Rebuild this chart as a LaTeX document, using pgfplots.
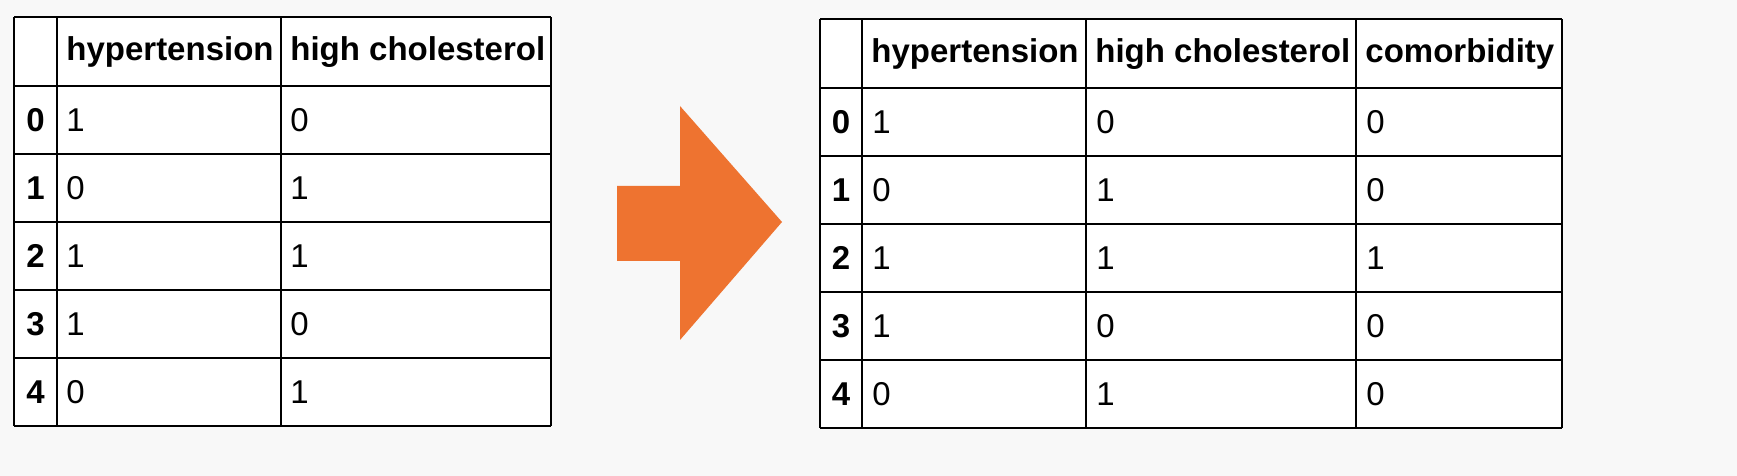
\documentclass[border=0pt]{standalone}
\usepackage{pgfplots}
\pgfplotsset{compat=1.18}
\usepackage{fontspec}
\setmainfont{Liberation Sans}
\definecolor{arrow}{HTML}{EE7330}
\definecolor{bg}{HTML}{F8F8F8}
\newcommand{\fs}{\fontsize{16.5}{19}\selectfont}
\begin{document}
\begin{tikzpicture}
\begin{axis}[scale only axis, width=868.5pt, height=238pt, xmin=0, xmax=1737, ymin=0, ymax=476,
  axis lines=none, clip=false]
\addplot[fill=bg,draw=none] coordinates {(0,0)(1737,0)(1737,476)(0,476)} -- cycle;
\addplot[fill=white,draw=none] coordinates {(14,50)(551,50)(551,459)(14,459)} -- cycle;
\addplot[fill=white,draw=none] coordinates {(820,48)(1562,48)(1562,457)(820,457)} -- cycle;
\addplot[fill=arrow,draw=none] coordinates {(617,290)(680,290)(680,370)(782,254)(680,136)(680,215)(617,215)} -- cycle;
\begin{scope}[line width=1.1pt]
\draw (14,459)--(551,459); \draw (14,390)--(551,390); \draw (14,322)--(551,322);
\draw (14,254)--(551,254); \draw (14,186)--(551,186); \draw (14,118)--(551,118); \draw (14,50)--(551,50);
\draw (14,50)--(14,459); \draw (57,50)--(57,459); \draw (281,50)--(281,459); \draw (551,50)--(551,459);
\draw (820,457)--(1562,457); \draw (820,388)--(1562,388); \draw (820,320)--(1562,320);
\draw (820,252)--(1562,252); \draw (820,184)--(1562,184); \draw (820,116)--(1562,116); \draw (820,48)--(1562,48);
\draw (820,48)--(820,457); \draw (862,48)--(862,457); \draw (1086,48)--(1086,457); \draw (1356,48)--(1356,457); \draw (1562,48)--(1562,457);
\end{scope}
\begin{scope}[every node/.style={font=\fs, inner sep=0pt}]
\node[anchor=west,font=\fs\bfseries] at (66,424) {hypertension};
\node[anchor=west,font=\fs\bfseries] at (290,424) {high cholesterol};
\node[anchor=west,font=\fs\bfseries] at (871,422) {hypertension};
\node[anchor=west,font=\fs\bfseries] at (1095,422) {high cholesterol};
\node[anchor=west,font=\fs\bfseries] at (1365,422) {comorbidity};
\node[font=\fs\bfseries] at (35.5,356) {0};
\node[font=\fs\bfseries] at (35.5,288) {1};
\node[font=\fs\bfseries] at (35.5,220) {2};
\node[font=\fs\bfseries] at (35.5,152) {3};
\node[font=\fs\bfseries] at (35.5,84) {4};
\node[anchor=west] at (66,356) {1}; \node[anchor=west] at (290,356) {0};
\node[anchor=west] at (66,288) {0}; \node[anchor=west] at (290,288) {1};
\node[anchor=west] at (66,220) {1}; \node[anchor=west] at (290,220) {1};
\node[anchor=west] at (66,152) {1}; \node[anchor=west] at (290,152) {0};
\node[anchor=west] at (66,84) {0}; \node[anchor=west] at (290,84) {1};
\node[font=\fs\bfseries] at (841,354) {0};
\node[font=\fs\bfseries] at (841,286) {1};
\node[font=\fs\bfseries] at (841,218) {2};
\node[font=\fs\bfseries] at (841,150) {3};
\node[font=\fs\bfseries] at (841,82) {4};
\node[anchor=west] at (872,354) {1}; \node[anchor=west] at (1096,354) {0}; \node[anchor=west] at (1366,354) {0};
\node[anchor=west] at (872,286) {0}; \node[anchor=west] at (1096,286) {1}; \node[anchor=west] at (1366,286) {0};
\node[anchor=west] at (872,218) {1}; \node[anchor=west] at (1096,218) {1}; \node[anchor=west] at (1366,218) {1};
\node[anchor=west] at (872,150) {1}; \node[anchor=west] at (1096,150) {0}; \node[anchor=west] at (1366,150) {0};
\node[anchor=west] at (872,82) {0}; \node[anchor=west] at (1096,82) {1}; \node[anchor=west] at (1366,82) {0};
\end{scope}
\end{axis}
\end{tikzpicture}
\end{document}
